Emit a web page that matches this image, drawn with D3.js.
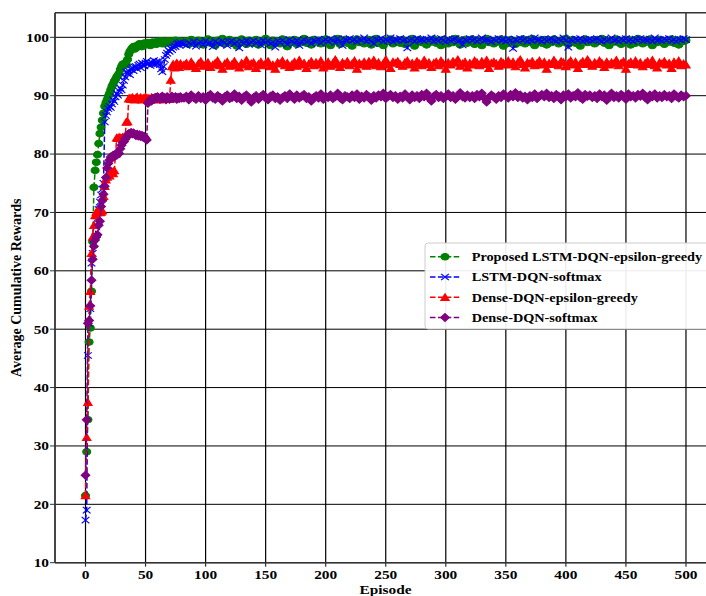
<!DOCTYPE html>
<html>
<head>
<meta charset="utf-8">
<script src="https://cdn.jsdelivr.net/npm/d3@7"></script>
<style>
  body { margin: 0; background: #fff; }
  text { font-family: "Liberation Serif", "Times New Roman", serif; font-weight: bold; fill: #000; }
</style>
</head>
<body>
<svg id="chart" width="706" height="596"></svg>
<script>
// episodes: every episode up to 80, then every 2nd
var episodes = d3.range(0, 81).concat(d3.range(82, 501, 2));

var rewardsLstmEps = [
  21.5, 29.0, 34.5, 47.8, 50.2, 56.5, 65.0, 74.3, 77.2, 78.6,
  79.9, 81.8, 83.5, 84.6, 85.8, 87.0, 88.2, 88.8, 89.3, 89.9,
  90.4, 91.0, 91.6, 92.0, 92.5, 92.8, 93.2, 93.5, 93.8, 94.5,
  95.0, 95.4, 95.2, 95.6, 95.3, 96.2, 97.1, 97.6, 97.9, 98.2,
  98.4, 98.0, 98.5, 98.3, 98.7, 98.9, 98.6, 98.4, 98.8, 99.0,
  98.7, 98.9, 99.1, 98.8, 98.6, 99.0, 99.2, 98.9, 99.1, 98.8,
  99.3, 99.0, 99.2, 99.4, 98.9, 99.1, 99.3, 99.0, 99.2, 99.4,
  99.1, 99.3, 99.0, 99.4, 99.2, 99.5, 99.1, 99.3, 99.4, 99.0,
  99.3,
  99.1, 99.4, 98.8, 99.6, 99.2, 98.9, 99.5, 99.3, 98.7, 99.4,
  99.7, 99.0, 99.3, 98.6, 99.5, 99.2, 99.8, 98.9, 99.3, 99.6,
  99.0, 99.4, 98.5, 99.2, 99.7, 99.1, 98.8, 99.5, 99.3, 99.0,
  99.6, 98.7, 99.4, 99.2, 99.8, 99.0, 98.6, 99.5, 99.1, 99.4,
  98.9, 99.7, 99.3, 98.4, 99.5, 99.2, 99.6, 98.8, 99.4, 99.1,
  99.8, 99.0, 99.3, 98.7, 99.6, 99.2, 99.5, 98.9, 99.4, 99.7,
  99.1, 98.6, 99.5, 99.3, 99.8, 98.8, 99.2, 99.6, 99.0, 99.4,
  98.5, 99.3, 99.7, 99.1, 99.5, 98.9, 99.4, 99.6, 98.7, 99.2,
  99.8, 99.0, 99.4, 98.6, 99.5, 99.3, 99.7, 98.9, 99.2, 99.5,
  99.0, 99.6, 98.8, 99.4, 99.2, 99.8, 98.5, 99.3, 99.6, 99.1,
  99.4, 98.7, 99.5, 99.2, 99.7, 99.0, 99.3, 98.6, 99.6, 99.4,
  98.9, 99.5, 99.1, 99.8, 99.3, 98.7, 99.4, 99.6, 99.0, 99.2,
  99.7, 98.8, 99.3, 99.5, 98.6, 99.4, 99.8, 99.1, 99.3, 98.9,
  99.5, 99.2, 99.7, 98.5, 99.4, 99.0, 99.6, 99.3, 98.8, 99.5,
  99.1, 99.7, 98.9, 99.4, 99.2, 99.8, 98.6, 99.3, 99.5, 99.0,
  99.6, 98.7, 99.4, 99.1, 99.7, 99.3, 98.9, 99.5, 99.2, 99.8,
  98.8, 99.4, 99.6, 99.0, 99.3, 98.5, 99.5, 99.7, 99.1, 99.4,
  99.2, 98.9, 99.6, 99.3, 99.8, 99.0, 99.4, 98.6, 99.5, 99.2,
  99.7, 99.1, 98.8, 99.5, 99.3, 99.6, 98.7, 99.4, 99.0, 99.8,
  99.3, 98.9, 99.5, 99.2, 99.7, 98.6, 99.4, 99.1, 99.6, 99.3,
  98.8, 99.5, 99.2, 99.7, 99.0, 99.4, 98.7, 99.6, 99.3, 99.5
];

var rewardsLstmSoftmax = [
  17.3, 19.0, 45.5, 51.0, 53.5, 61.3, 63.0, 64.5, 65.8, 67.5,
  69.0, 70.5, 71.8, 73.0, 74.0, 75.0, 85.5, 86.6, 87.2, 87.8,
  88.2, 88.0, 88.6, 89.3, 89.0, 89.8, 90.4, 90.1, 90.8, 91.3,
  91.0, 91.8, 92.6, 93.2, 94.1, 93.8, 94.2, 93.6, 94.5, 94.8,
  94.3, 94.9, 95.0, 94.6, 95.2, 95.4, 94.8, 95.6, 95.3, 95.1,
  95.6, 95.9, 95.4, 95.6, 95.2, 95.7, 95.5, 96.0, 95.4, 95.8,
  95.5, 95.9, 95.3, 94.6, 94.1, 95.0, 96.2, 96.9, 97.3, 97.8,
  97.6, 98.1, 97.9, 98.3, 98.6, 98.4, 98.8, 99.0, 98.7, 99.1,
  98.9,
  98.9, 98.6, 99.1, 98.8, 99.3, 98.5, 99.0, 99.2, 98.7, 99.4,
  98.9, 99.1, 98.4, 99.3, 99.0, 98.8, 99.4, 99.1, 98.6, 99.2,
  99.4, 98.9, 99.2, 98.2, 99.3, 99.0, 99.5, 98.8, 99.2, 99.4,
  99.0, 99.3, 98.7, 99.5, 99.1, 99.4, 98.9, 99.2, 98.3, 99.4,
  99.1, 99.5, 99.2, 98.8, 99.6, 99.3, 99.0, 99.5, 98.6, 99.3,
  99.6, 99.2, 99.4, 98.9, 99.5, 99.3, 99.7, 99.0, 99.4, 99.6,
  99.3, 99.7, 99.5, 99.1, 99.8, 99.4, 98.6, 99.6, 99.5, 99.8,
  99.4, 99.6, 99.2, 99.7, 99.5, 99.9, 99.3, 99.6, 99.4, 98.9,
  99.7, 99.5, 99.8, 99.3, 99.6, 99.4, 99.9, 99.2, 99.6, 99.5,
  99.8, 99.4, 99.6, 98.2, 99.5, 99.7, 99.3, 99.8, 99.5, 99.6,
  99.4, 99.7, 99.5, 99.9, 99.3, 99.6, 99.4, 99.8, 99.5, 99.2,
  99.7, 99.4, 99.6, 99.8, 99.3, 99.5, 98.7, 99.6, 99.4, 99.8,
  99.5, 99.7, 99.3, 99.6, 99.9, 99.4, 99.6, 99.5, 99.2, 99.7,
  99.4, 99.8, 99.5, 99.6, 99.3, 99.7, 99.5, 98.1, 99.6, 99.4,
  99.8, 99.5, 99.7, 99.3, 99.6, 99.4, 99.9, 99.5, 99.6, 99.3,
  99.7, 99.4, 99.6, 99.8, 99.5, 99.3, 99.7, 99.4, 99.9, 99.5,
  98.3, 99.6, 99.4, 99.7, 99.5, 99.8, 99.3, 99.6, 99.5, 99.7,
  99.4, 99.6, 99.8, 99.5, 99.3, 99.7, 99.4, 99.6, 99.9, 99.5,
  99.6, 99.3, 99.7, 99.5, 99.8, 99.4, 99.6, 99.3, 99.7, 99.5,
  99.8, 99.4, 99.6, 99.5, 99.7, 99.3, 99.9, 99.5, 99.6, 99.4,
  99.7, 99.5, 99.8, 99.4, 99.6, 99.3, 99.7, 99.5, 99.8, 99.6
];

var rewardsDenseEps = [
  21.5, 31.5, 37.5, 54.0, 56.5, 63.0, 65.8, 67.8, 69.5, 70.1,
  70.0, 70.2, 70.0, 70.1, 70.3, 72.8, 74.5, 75.6, 76.1, 76.5,
  76.3, 76.8, 77.0, 76.7, 77.2, 80.0, 82.8, 82.7, 82.9, 82.8,
  82.7, 82.9, 82.8, 83.0, 85.5, 85.6, 89.5, 89.6, 89.4, 89.7,
  89.5, 89.3, 89.6, 89.8, 89.4, 89.5, 89.7, 89.3, 89.6, 89.5,
  89.8, 89.4, 89.6, 89.5, 89.3, 89.7, 89.5, 89.6, 89.4, 89.7,
  89.5, 89.3, 89.6, 89.8, 89.5, 89.4, 89.7, 89.5, 89.6, 89.4,
  89.6, 92.7, 95.0, 95.4, 94.8, 95.3, 95.6, 95.1, 94.9, 95.5,
  95.2,
  95.3, 95.6, 95.0, 95.8, 95.2, 94.7, 95.5, 95.9, 95.1, 95.4,
  95.7, 94.9, 95.3, 95.6, 96.0, 95.2, 94.6, 95.5, 95.8, 95.1,
  95.4, 95.9, 95.2, 94.8, 95.6, 95.3, 96.1, 95.0, 95.5, 95.7,
  94.7, 95.4, 95.8, 95.2, 95.6, 95.9, 95.0, 95.3, 94.6, 95.7,
  95.5, 96.0, 95.2, 95.6, 94.9, 95.4, 95.8, 95.1, 96.1, 95.3,
  95.6, 94.7, 95.5, 95.9, 95.2, 95.7, 95.3, 96.0, 94.8, 95.4,
  95.8, 95.1, 95.6, 96.2, 95.3, 94.9, 95.7, 95.4, 95.9, 95.2,
  95.5, 96.0, 94.6, 95.6, 95.3, 95.8, 95.1, 95.9, 95.4, 96.1,
  95.2, 95.7, 95.0, 95.5, 96.2, 95.3, 94.7, 95.8, 95.6, 95.9,
  95.4, 95.1, 95.7, 96.0, 95.3, 95.6, 94.8, 95.9, 95.5, 95.2,
  96.1, 95.4, 95.7, 94.9, 95.6, 95.8, 95.2, 96.0, 95.5, 94.6,
  95.7, 95.3, 95.9, 95.6, 96.2, 95.1, 95.5, 95.8, 94.8, 95.6,
  95.3, 96.0, 95.7, 95.2, 95.9, 95.4, 96.1, 94.7, 95.6, 95.8,
  95.5, 95.1, 95.9, 95.6, 95.3, 96.0, 95.4, 95.8, 95.0, 95.7,
  96.2, 95.4, 94.8, 95.7, 95.5, 95.9, 95.2, 95.6, 96.0, 95.3,
  95.8, 94.6, 95.6, 95.4, 96.1, 95.5, 95.2, 95.9, 95.7, 95.0,
  95.6, 96.0, 95.3, 95.8, 94.7, 95.5, 95.9, 95.4, 96.2, 95.6,
  95.1, 95.7, 95.4, 96.0, 95.6, 94.9, 95.8, 95.3, 95.7, 95.5,
  96.1, 95.2, 95.6, 95.9, 94.6, 95.5, 95.8, 95.4, 96.0, 95.3,
  95.7, 95.0, 95.6, 95.9, 95.4, 96.1, 95.2, 94.8, 95.7, 95.5,
  95.9, 95.3, 95.6, 94.7, 95.8, 95.4, 96.0, 95.2, 95.5, 95.3
];

var rewardsDenseSoftmax = [
  25.0, 34.5, 51.0, 51.5, 54.0, 58.4, 62.0, 64.2, 65.3, 65.8,
  66.2, 67.8, 68.5, 71.0, 72.0, 73.1, 74.5, 76.0, 77.6, 78.4,
  79.0, 79.5, 79.3, 79.8, 79.6, 80.0, 79.8, 80.3, 80.1, 80.9,
  81.5, 82.0, 82.1, 82.6, 82.9, 83.3, 83.5, 83.4, 83.7, 83.5,
  83.6, 83.4, 83.2, 83.4, 83.1, 83.3, 83.0, 83.2, 82.9, 83.0,
  82.7, 82.4, 88.7, 89.0, 89.3, 89.1, 89.5, 89.4, 89.7, 89.5,
  89.8, 89.6, 89.4, 89.7, 89.9, 89.5, 89.6, 89.3, 89.8, 89.6,
  89.4, 89.7, 89.9, 89.5, 89.6, 89.8, 89.4, 89.7, 89.5, 89.8,
  89.6,
  89.6, 89.9, 89.3, 90.1, 89.7, 89.4, 90.0, 89.5, 89.8, 89.2,
  89.9, 90.2, 89.6, 89.4, 90.0, 89.7, 89.1, 89.8, 90.1, 89.5,
  89.7, 90.3, 89.5, 89.9, 89.2, 89.8, 90.1, 89.6, 88.9, 89.7,
  90.0, 89.4, 89.8, 90.2, 89.6, 89.3, 89.9, 90.1, 89.5, 89.8,
  89.2, 89.7, 90.0, 89.5, 90.3, 89.8, 89.4, 90.1, 89.6, 89.9,
  90.2, 89.5, 89.8, 89.1, 89.7, 90.0, 89.6, 90.3, 89.4, 89.9,
  89.7, 90.1, 89.5, 89.8, 90.4, 89.6, 89.3, 90.0, 89.8, 89.5,
  90.1, 89.7, 90.3, 89.4, 89.9, 89.6, 90.2, 89.8, 89.2, 90.0,
  89.6, 90.1, 89.8, 90.4, 89.5, 89.9, 90.2, 89.7, 90.0, 89.4,
  89.9, 89.6, 90.3, 89.8, 89.3, 90.1, 89.7, 90.0, 89.5, 90.2,
  89.8, 90.4, 89.6, 89.1, 89.9, 90.2, 89.7, 90.0, 89.5, 89.8,
  90.3, 89.7, 90.0, 89.4, 89.9, 90.5, 89.8, 89.6, 90.1, 89.7,
  90.0, 89.5, 90.2, 89.8, 90.4, 89.6, 88.9, 89.7, 90.1, 89.8,
  89.4, 90.0, 89.7, 90.3, 89.9, 89.6, 90.2, 89.8, 90.5, 89.7,
  90.1, 89.6, 89.9, 89.3, 90.0, 89.7, 90.3, 89.5, 89.9, 90.2,
  89.8, 90.4, 89.7, 90.0, 89.5, 90.2, 89.9, 89.3, 90.1, 89.8,
  90.3, 89.6, 90.0, 89.8, 90.5, 89.7, 89.4, 90.2, 89.9, 90.1,
  89.7, 90.0, 89.5, 90.3, 89.8, 90.1, 89.2, 89.9, 90.4, 89.7,
  90.0, 89.6, 90.2, 89.9, 89.4, 90.3, 89.8, 90.0, 89.6, 90.2,
  89.9, 90.4, 89.7, 89.3, 90.1, 89.8, 90.3, 89.6, 90.0, 89.7,
  90.2, 89.8, 90.0, 89.5, 90.3, 89.9, 89.6, 90.1, 89.8, 90.0
];

var seriesNames = ["Proposed LSTM-DQN-epsilon-greedy", "LSTM-DQN-softmax",
                   "Dense-DQN-epsilon-greedy", "Dense-DQN-softmax"];
var xTicks = [0, 50, 100, 150, 200, 250, 300, 350, 400, 450, 500];
var yTicks = [10, 20, 30, 40, 50, 60, 70, 80, 90, 100];

// look of each series
var styles = [
  {color: "green",   marker: "circle"},
  {color: "blue",    marker: "x"},
  {color: "red",     marker: "triangle"},
  {color: "purple",  marker: "diamond"}
];
var allSeries = [rewardsLstmEps, rewardsLstmSoftmax, rewardsDenseEps, rewardsDenseSoftmax];

// the picture is stretched horizontally by ~1.2
var SX = 1.2;

var svg = d3.select("#chart");
var plotLeft = 55, plotRight = 716, plotTop = 12.8, plotBottom = 562.7;

var x = d3.scaleLinear().domain([-25.4, 525]).range([plotLeft, plotRight]);
var y = d3.scaleLinear().domain([10, 104.2]).range([plotBottom, plotTop]);

// grid
var grid = svg.append("g");
grid.selectAll(".gx").data(xTicks).enter().append("line")
  .attr("x1", function(d){ return x(d); }).attr("x2", function(d){ return x(d); })
  .attr("y1", plotTop).attr("y2", plotBottom)
  .attr("stroke", "#000").attr("stroke-width", 1.2);
grid.selectAll(".gy").data(yTicks).enter().append("line")
  .attr("x1", plotLeft).attr("x2", plotRight)
  .attr("y1", function(d){ return y(d); }).attr("y2", function(d){ return y(d); })
  .attr("stroke", "#000").attr("stroke-width", 1);

// data
svg.append("clipPath").attr("id", "plotclip").append("rect")
  .attr("x", plotLeft).attr("y", plotTop)
  .attr("width", plotRight - plotLeft).attr("height", plotBottom - plotTop);
var plot = svg.append("g").attr("clip-path", "url(#plotclip)");

function markerPath(kind) {
  if (kind === "circle") return d3.symbol(d3.symbolCircle, 34)();
  if (kind === "x") return "M-3.2,-3.2L3.2,3.2M-3.2,3.2L3.2,-3.2";
  if (kind === "triangle") return "M0,-3.5L3.5,3.3L-3.5,3.3Z";
  return "M0,-4L3.6,0L0,4L-3.6,0Z";
}

var line = d3.line()
  .x(function(d, i){ return x(episodes[i]); })
  .y(function(d){ return y(d); });

allSeries.forEach(function(vals, k) {
  var st = styles[k];
  plot.append("path")
    .attr("d", line(vals))
    .attr("fill", "none")
    .attr("stroke", st.color)
    .attr("stroke-width", 1.5)
    .attr("stroke-dasharray", "5.5,2.4");
  plot.append("g").selectAll("path").data(vals).enter().append("path")
    .attr("d", markerPath(st.marker))
    .attr("transform", function(d, i){
      return "translate(" + x(episodes[i]) + "," + y(d) + ") scale(" + SX + ",1)";
    })
    .attr("fill", st.marker === "x" ? "none" : st.color)
    .attr("stroke", st.color)
    .attr("stroke-width", 1);
});

// spines
svg.append("line").attr("x1", plotLeft).attr("x2", plotLeft).attr("y1", plotTop).attr("y2", plotBottom)
  .attr("stroke", "#333").attr("stroke-width", 1.8);
svg.append("line").attr("x1", plotLeft).attr("x2", plotRight).attr("y1", plotBottom).attr("y2", plotBottom)
  .attr("stroke", "#333").attr("stroke-width", 1.5);
svg.append("line").attr("x1", plotLeft).attr("x2", plotRight).attr("y1", plotTop).attr("y2", plotTop)
  .attr("stroke", "#333").attr("stroke-width", 1.5);

// ticks + labels
var yAxis = svg.append("g");
yTicks.forEach(function(t) {
  yAxis.append("line").attr("x1", plotLeft - 5).attr("x2", plotLeft).attr("y1", y(t)).attr("y2", y(t))
    .attr("stroke", "#333").attr("stroke-width", 1);
  yAxis.append("text")
    .attr("transform", "translate(" + (plotLeft - 6) + "," + (y(t) + 4.4) + ") scale(" + SX + ",1)")
    .attr("text-anchor", "end")
    .style("font-size", "12.8px")
    .text(t);
});
var xAxis = svg.append("g");
xTicks.forEach(function(t) {
  xAxis.append("line").attr("x1", x(t)).attr("x2", x(t)).attr("y1", plotBottom).attr("y2", plotBottom + 4)
    .attr("stroke", "#333").attr("stroke-width", 1.2);
  xAxis.append("text")
    .attr("transform", "translate(" + x(t) + "," + (plotBottom + 16.3) + ") scale(" + SX + ",1)")
    .attr("text-anchor", "middle")
    .style("font-size", "12.8px")
    .text(t);
});

svg.append("text")
  .attr("transform", "translate(" + ((plotLeft + plotRight) / 2) + ",594) scale(" + SX + ",1)")
  .attr("text-anchor", "middle")
  .style("font-size", "12.8px")
  .text("Episode");

svg.append("text")
  .attr("transform", "translate(21," + ((plotTop + plotBottom) / 2) + ") scale(1.1,1) rotate(-90)")
  .attr("text-anchor", "middle")
  .style("font-size", "14px")
  .text("Average Cumulative Rewards");

// legend
var lg = svg.append("g");
lg.append("rect").attr("x", 425).attr("y", 243).attr("width", 290).attr("height", 86)
  .attr("rx", 3).attr("fill", "#fff").attr("fill-opacity", 0.92)
  .attr("stroke", "#ccc").attr("stroke-width", 1);
seriesNames.forEach(function(name, k) {
  var st = styles[k];
  var cy = 256.7 + k * 20.3;
  lg.append("line").attr("x1", 430).attr("x2", 460).attr("y1", cy).attr("y2", cy)
    .attr("stroke", st.color).attr("stroke-width", 1.5).attr("stroke-dasharray", "5.5,2.4");
  lg.append("path").attr("d", markerPath(st.marker))
    .attr("transform", "translate(445," + cy + ") scale(" + SX + ",1)")
    .attr("fill", st.marker === "x" ? "none" : st.color)
    .attr("stroke", st.color).attr("stroke-width", 1);
  lg.append("text")
    .attr("transform", "translate(471.7," + (cy + 4.2) + ") scale(" + SX + ",1)")
    .style("font-size", "11.9px")
    .text(name);
});
</script>
</body>
</html>
